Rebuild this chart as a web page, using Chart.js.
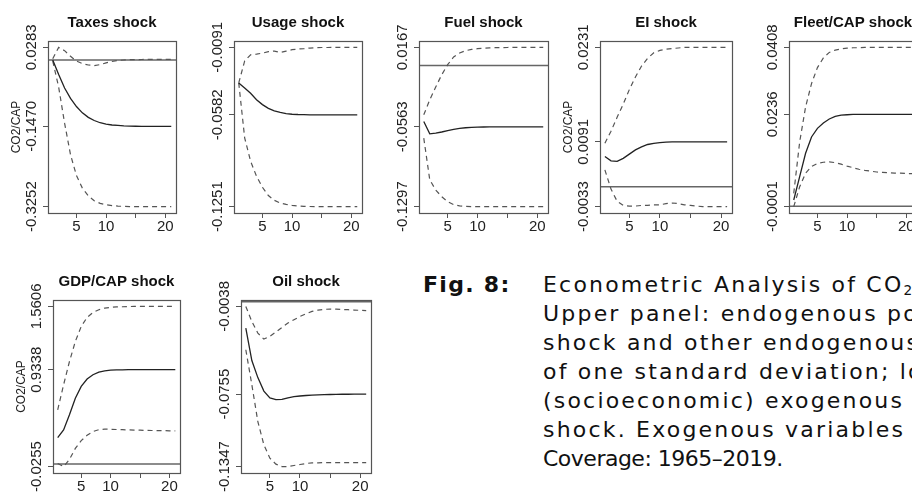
<!DOCTYPE html>
<html>
<head>
<meta charset="utf-8">
<script src="https://cdn.jsdelivr.net/npm/chart.js@4.4.0/dist/chart.umd.min.js"></script>
<style>
  html, body { margin: 0; padding: 0; background: #fff; }
  body { width: 912px; height: 492px; overflow: hidden; position: relative; }
  canvas.panel { position: absolute; }
  .caption {
    position: absolute;
    font-family: "DejaVu Sans", Verdana, sans-serif;
    font-size: 22px;
    line-height: 29px;
    color: #111;
    white-space: nowrap;
  }
  .caption b { letter-spacing: 1.3px; }
  .caption .wide { letter-spacing: 2.2px; }
  .caption .tight { letter-spacing: -0.5px; }
  .caption sub { font-size: 0.62em; line-height: 0; vertical-align: -0.25em; }
</style>
</head>
<body>

<div class="caption" style="left:423px; top:270px;"><b>Fig. 8:</b></div>
<div class="caption" style="left:543px; top:270px;">
<span class="wide">Econometric Analysis of CO<sub>2</sub> emissions</span><br>
<span class="wide">Upper panel: endogenous policy</span><br>
<span class="wide">shock and other endogenous</span><br>
<span class="wide">of one standard deviation; lower</span><br>
<span class="wide">(socioeconomic) exogenous variables</span><br>
<span class="wide">shock. Exogenous variables are</span><br>
<span class="tight">Coverage: 1965–2019.</span>
</div>

<script>
// ----------------------
// Data
// ----------------------
const steps = [1, 2, 3, 4, 5, 6, 7, 8, 9, 10, 11, 12, 13, 14, 15, 16, 17, 18, 19, 20, 21];
const xTicks = [5, 10, 15, 20];
const xTickLabels = ["5", "10", "", "20"];

// Taxes shock
const taxesIrf = [0.0, -0.032, -0.062, -0.085, -0.103, -0.117, -0.127, -0.134, -0.139, -0.142, -0.144, -0.145, -0.146, -0.1465, -0.1468, -0.1469, -0.147, -0.147, -0.147, -0.147, -0.147];
const taxesUpper = [0.003, 0.0283, 0.021, 0.0084, -0.002, -0.0077, -0.0108, -0.0121, -0.0099, -0.0062, -0.003, -0.0008, 0.0003, 0.001, 0.0012, 0.0014, 0.0015, 0.0016, 0.0017, 0.0018, 0.0018];
const taxesLower = [-0.002, -0.06, -0.14, -0.21, -0.256, -0.284, -0.301, -0.312, -0.318, -0.321, -0.323, -0.324, -0.3247, -0.325, -0.3251, -0.3252, -0.3252, -0.3252, -0.3252, -0.3252, -0.3252];
const taxesTicks = [0.0283, -0.1470, -0.3252];
const taxesTickLabels = ["0.0283", "-0.1470", "-0.3252"];

// Usage shock
const usageIrf = [-0.035, -0.0387, -0.0425, -0.0472, -0.0508, -0.0535, -0.0553, -0.0565, -0.0573, -0.0578, -0.058, -0.0581, -0.0582, -0.0582, -0.0582, -0.0582, -0.0582, -0.0582, -0.0582, -0.0582, -0.0582];
const usageUpper = [-0.035, -0.019, -0.0145, -0.014, -0.0133, -0.0122, -0.0118, -0.0128, -0.0118, -0.0108, -0.0103, -0.01, -0.0096, -0.0093, -0.0092, -0.0092, -0.0091, -0.0091, -0.0091, -0.0091, -0.0091];
const usageLower = [-0.035, -0.075, -0.092, -0.103, -0.111, -0.117, -0.1205, -0.1225, -0.1235, -0.1242, -0.1246, -0.1249, -0.125, -0.1251, -0.1251, -0.1251, -0.1251, -0.1251, -0.1251, -0.1251, -0.1251];
const usageTicks = [-0.0091, -0.0582, -0.1251];
const usageTickLabels = ["-0.0091", "-0.0582", "-0.1251"];

// Fuel shock
const fuelIrf = [-0.0515, -0.0628, -0.0622, -0.0611, -0.0598, -0.0587, -0.0578, -0.0572, -0.0568, -0.0566, -0.0565, -0.0564, -0.0563, -0.0563, -0.0563, -0.0563, -0.0563, -0.0563, -0.0563, -0.0563, -0.0563];
const fuelUpper = [-0.0453, -0.0315, -0.0198, -0.0085, 0.0008, 0.0079, 0.0115, 0.0137, 0.0148, 0.0155, 0.0159, 0.0162, 0.0164, 0.0165, 0.0166, 0.0167, 0.0167, 0.0167, 0.0167, 0.0167, 0.0167];
const fuelLower = [-0.0667, -0.105, -0.1144, -0.1205, -0.1251, -0.1278, -0.129, -0.1295, -0.1297, -0.1297, -0.1297, -0.1297, -0.1297, -0.1297, -0.1297, -0.1297, -0.1297, -0.1297, -0.1297, -0.1297, -0.1297];
const fuelTicks = [0.0167, -0.0563, -0.1297];
const fuelTickLabels = ["0.0167", "-0.0563", "-0.1297"];

// EI shock
const eiIrf = [0.005, 0.0043, 0.0042, 0.0047, 0.0054, 0.0061, 0.0066, 0.007, 0.0072, 0.0073, 0.0074, 0.00745, 0.00745, 0.00745, 0.00745, 0.00745, 0.00745, 0.00745, 0.00745, 0.00745, 0.00745];
const eiUpper = [0.0072, 0.0092, 0.0115, 0.0137, 0.0161, 0.0182, 0.02, 0.0213, 0.0222, 0.0226, 0.0228, 0.0229, 0.023, 0.0231, 0.0231, 0.0231, 0.0231, 0.0231, 0.0231, 0.0231, 0.0231];
const eiLower = [0.0028, -0.0004, -0.0024, -0.0031, -0.0032, -0.0032, -0.0031, -0.0031, -0.003, -0.003, -0.0028, -0.0027, -0.0028, -0.003, -0.0031, -0.0032, -0.0033, -0.0033, -0.0033, -0.0033, -0.0033];
const eiTicks = [0.0231, 0.00745, -0.0033];
const eiTickLabels = ["0.0231", "0.0091", "-0.0033"];

// Fleet/CAP shock
const fleetIrf = [0.0016, 0.0076, 0.0136, 0.0178, 0.02, 0.0214, 0.0224, 0.0231, 0.0234, 0.0235, 0.0236, 0.0236, 0.0236, 0.0236, 0.0236, 0.0236, 0.0236, 0.0236, 0.0236, 0.0236, 0.0236];
const fleetUpper = [0.0033, 0.0165, 0.0255, 0.0315, 0.0356, 0.0381, 0.0395, 0.0401, 0.0404, 0.0406, 0.0407, 0.0407, 0.0408, 0.0408, 0.0408, 0.0408, 0.0408, 0.0408, 0.0408, 0.0408, 0.0408];
const fleetLower = [-0.0001, 0.005, 0.0085, 0.0102, 0.011, 0.0113, 0.0114, 0.0112, 0.0108, 0.0103, 0.0099, 0.0095, 0.0092, 0.009, 0.0088, 0.0087, 0.0086, 0.0085, 0.0085, 0.0084, 0.0084];
const fleetTicks = [0.0408, 0.0236, -0.0001];
const fleetTickLabels = ["0.0408", "0.0236", "-0.0001"];

// GDP/CAP shock
const gdpIrf = [0.262, 0.338, 0.487, 0.652, 0.768, 0.841, 0.884, 0.91, 0.923, 0.929, 0.932, 0.933, 0.9338, 0.9338, 0.9338, 0.9338, 0.9338, 0.9338, 0.9338, 0.9338, 0.9338];
const gdpUpper = [0.537, 0.784, 1.015, 1.214, 1.362, 1.452, 1.501, 1.528, 1.544, 1.551, 1.555, 1.557, 1.559, 1.5606, 1.5606, 1.5606, 1.5606, 1.5606, 1.5606, 1.5606, 1.5606];
const gdpLower = [0.005, -0.0255, 0.045, 0.155, 0.232, 0.285, 0.322, 0.34, 0.345, 0.344, 0.342, 0.34, 0.338, 0.336, 0.335, 0.333, 0.332, 0.331, 0.33, 0.329, 0.328];
const gdpTicks = [1.5606, 0.9338, -0.0255];
const gdpTickLabels = ["1.5606", "0.9338", "-0.0255"];

// Oil shock
const oilIrf = [-0.0215, -0.048, -0.062, -0.073, -0.0785, -0.08, -0.0797, -0.0785, -0.0776, -0.077, -0.0766, -0.0763, -0.0761, -0.0759, -0.0758, -0.0757, -0.0756, -0.0756, -0.0755, -0.0755, -0.0755];
const oilUpper = [-0.0038, -0.0161, -0.0256, -0.0305, -0.0283, -0.0247, -0.021, -0.0174, -0.0147, -0.012, -0.0098, -0.0079, -0.0068, -0.0062, -0.006, -0.0061, -0.0063, -0.0065, -0.0068, -0.007, -0.0073];
const oilLower = [-0.0392, -0.0678, -0.0979, -0.1169, -0.1278, -0.1327, -0.1347, -0.1347, -0.1338, -0.133, -0.1322, -0.1316, -0.1316, -0.1315, -0.1315, -0.1315, -0.1315, -0.1315, -0.1315, -0.1315, -0.1315];
const oilTicks = [-0.0038, -0.0755, -0.1347];
const oilTickLabels = ["-0.0038", "-0.0755", "-0.1347"];

// ----------------------
// Layout of the panels (plot box in page pixels: left, top, right, bottom)
// ----------------------
const LEFT = 48, TOP = 41, RIGHT = 8, BOTTOM = 30;

const panels = [
  { title: "Taxes shock", ylab: true, box: [48, 41, 176, 213], irf: taxesIrf, upper: taxesUpper, lower: taxesLower, ticks: taxesTicks, labels: taxesTickLabels },
  { title: "Usage shock", ylab: false, box: [234, 41, 362, 213], irf: usageIrf, upper: usageUpper, lower: usageLower, ticks: usageTicks, labels: usageTickLabels },
  { title: "Fuel shock", ylab: false, box: [419, 41, 548, 213], irf: fuelIrf, upper: fuelUpper, lower: fuelLower, ticks: fuelTicks, labels: fuelTickLabels },
  { title: "EI shock", ylab: true, box: [600, 41, 732, 213], irf: eiIrf, upper: eiUpper, lower: eiLower, ticks: eiTicks, labels: eiTickLabels },
  { title: "Fleet/CAP shock", ylab: false, box: [789, 41, 917, 213], irf: fleetIrf, upper: fleetUpper, lower: fleetLower, ticks: fleetTicks, labels: fleetTickLabels },
  { title: "GDP/CAP shock", ylab: true, box: [53, 300, 180, 473], irf: gdpIrf, upper: gdpUpper, lower: gdpLower, ticks: gdpTicks, labels: gdpTickLabels },
  { title: "Oil shock", ylab: false, box: [241, 300, 371, 473], irf: oilIrf, upper: oilUpper, lower: oilLower, ticks: oilTicks, labels: oilTickLabels }
];

Chart.defaults.font.family = '"Liberation Sans", Arial, sans-serif';
Chart.defaults.color = "#222";

// ----------------------
// R-like decorations: zero line, box, title, rotated y labels
// ----------------------
const rStyle = {
  id: "rStyle",
  beforeDatasetsDraw(chart) {
    const { ctx, chartArea: a, scales: { y } } = chart;
    if (0 < y.min || 0 > y.max) return; // zero not inside the panel
    const py = y.getPixelForValue(0);
    ctx.save();
    ctx.strokeStyle = "#666";
    ctx.lineWidth = 1.5;
    ctx.beginPath();
    ctx.moveTo(a.left, py);
    ctx.lineTo(a.right, py);
    ctx.stroke();
    ctx.restore();
  },
  afterDraw(chart, args, opts) {
    const { ctx, chartArea: a, scales: { y } } = chart;
    ctx.save();
    // box
    ctx.strokeStyle = "#555";
    ctx.lineWidth = 1.2;
    ctx.strokeRect(a.left + 0.5, a.top + 0.5, a.right - a.left, a.bottom - a.top);

    // title
    ctx.fillStyle = "#111";
    ctx.font = 'bold 15px "Liberation Sans", Arial, sans-serif';
    ctx.textAlign = "center";
    ctx.textBaseline = "middle";
    ctx.fillText(opts.title, (a.left + a.right) / 2, a.top - 18);

    // y tick labels, rotated like R's las = 0
    ctx.fillStyle = "#222";
    ctx.font = '15px "Liberation Sans", Arial, sans-serif';
    opts.ticks.forEach((v, i) => {
      const py = y.getPixelForValue(v);
      ctx.save();
      ctx.translate(a.left - 16, py);
      ctx.rotate(-Math.PI / 2);
      ctx.fillText(opts.labels[i], 0, 0);
      ctx.restore();
    });

    // y axis label
    if (opts.ylab) {
      ctx.font = '12px "Liberation Sans", Arial, sans-serif';
      ctx.translate(a.left - 31, (a.top + a.bottom) / 2);
      ctx.rotate(-Math.PI / 2);
      ctx.fillText("CO2/CAP", 0, 0);
    }
    ctx.restore();
  }
};

function makePanel(p) {
  const c = document.createElement("canvas");
  const w = p.box[2] - p.box[0] + LEFT + RIGHT;
  const h = p.box[3] - p.box[1] + TOP + BOTTOM;
  c.width = w;
  c.height = h;
  c.className = "panel";
  c.style.left = (p.box[0] - LEFT) + "px";
  c.style.top = (p.box[1] - TOP) + "px";
  c.style.width = w + "px";
  c.style.height = h + "px";
  document.body.appendChild(c);

  const lo = Math.min(...p.ticks);
  const hi = Math.max(...p.ticks);
  const pad = (hi - lo) * 0.04;
  const pts = arr => arr.map((v, i) => ({ x: steps[i], y: v }));

  new Chart(c, {
    type: "line",
    data: {
      datasets: [
        { data: pts(p.upper), borderColor: "#555", borderWidth: 1.2, borderDash: [5, 4] },
        { data: pts(p.irf), borderColor: "#222", borderWidth: 1.3 },
        { data: pts(p.lower), borderColor: "#555", borderWidth: 1.2, borderDash: [5, 4] }
      ]
    },
    options: {
      responsive: false,
      animation: false,
      devicePixelRatio: 1,
      layout: { padding: { left: 0, top: TOP, right: RIGHT, bottom: 0 } },
      elements: { point: { radius: 0 }, line: { tension: 0 } },
      plugins: {
        legend: { display: false },
        tooltip: { enabled: false },
        rStyle: { title: p.title, ticks: p.ticks, labels: p.labels, ylab: p.ylab }
      },
      scales: {
        x: {
          type: "linear",
          min: 1 - 0.04 * 20,
          max: 21 + 0.04 * 20,
          afterBuildTicks: s => { s.ticks = xTicks.map(v => ({ value: v })); },
          afterFit: s => { s.height = BOTTOM; s.paddingLeft = 0; s.paddingRight = 0; },
          ticks: {
            autoSkip: false,
            maxRotation: 0,
            padding: 0,
            color: "#222",
            font: { size: 15 },
            callback: (v, i) => xTickLabels[i]
          },
          grid: { drawOnChartArea: false, tickLength: 5, color: "#555" },
          border: { display: false }
        },
        y: {
          type: "linear",
          min: lo - pad,
          max: hi + pad,
          afterBuildTicks: s => { s.ticks = p.ticks.map(v => ({ value: v })); },
          afterFit: s => { s.width = LEFT; s.paddingTop = 0; s.paddingBottom = 0; },
          ticks: { display: false },
          grid: { drawOnChartArea: false, tickLength: 5, color: "#555" },
          border: { display: false }
        }
      }
    },
    plugins: [rStyle]
  });
}

panels.forEach(makePanel);
</script>
</body>
</html>
